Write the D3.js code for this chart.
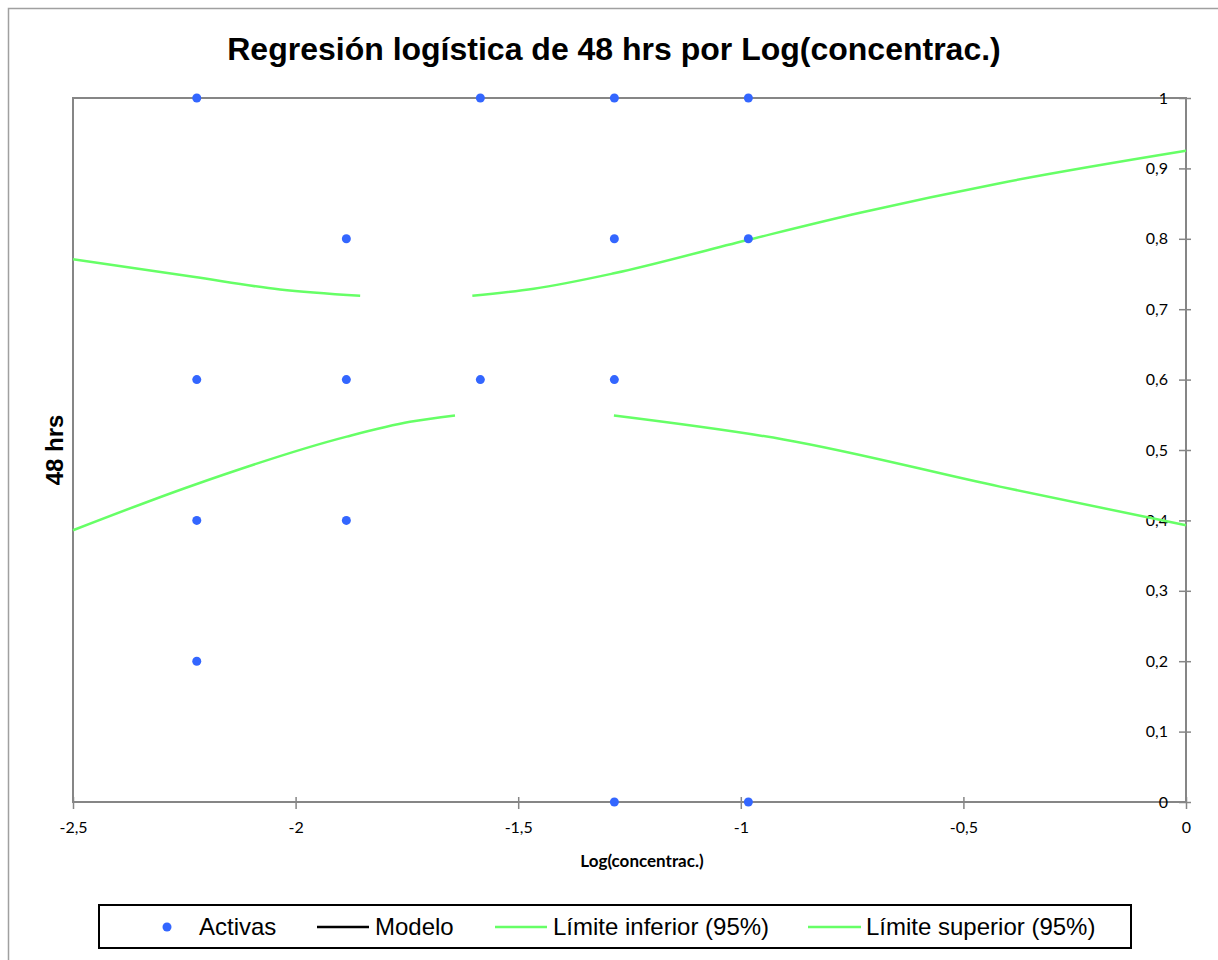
<!DOCTYPE html>
<html>
<head>
<meta charset="utf-8">
<script src="https://cdn.jsdelivr.net/npm/d3@7"></script>
<style>
    body { margin: 0; background: #fff; }
    .tick text { font-family: Lato, "Open Sans", sans-serif; font-size: 16px; fill: #000; }
    .tick line { stroke: #868686; stroke-width: 1.5; }
</style>
</head>
<body>
<div id="chart"></div>
<script>
// Observed points (Activas)
const activasX = [-2.222, -2.222, -2.222, -2.222, -1.886, -1.886, -1.886, -1.585, -1.585,
                  -1.284, -1.284, -1.284, -1.284, -0.983, -0.983, -0.983];
const activasY = [1, 0.6, 0.4, 0.2, 0.8, 0.6, 0.4, 1, 0.6, 1, 0.8, 0.6, 0, 1, 0.8, 0];

// Confidence limits (null = gap in the curve)
const infX = [-2.5, -2.23, -1.885, -1.743, -1.642, -1.45, -1.285, -0.904, -0.418, 0];
const infY = [0.386, 0.450, 0.519, 0.540, 0.549, null, 0.549, 0.515, 0.448, 0.393];
const supX = [-2.5, -2.23, -2.035, -1.855, -1.73, -1.603, -1.465, -1.285, -0.987, -0.732, -0.418, 0];
const supY = [0.771, 0.746, 0.728, 0.719, null, 0.719, 0.729, 0.751, 0.798, 0.837, 0.879, 0.925];

const xTicks = [-2.5, -2, -1.5, -1, -0.5, 0];
const yTicks = [0, 0.1, 0.2, 0.3, 0.4, 0.5, 0.6, 0.7, 0.8, 0.9, 1];

const legendLabels = ["Activas", "Modelo", "Límite inferior (95%)", "Límite superior (95%)"];

const width = 1218;
const height = 960;
const plot = {left: 73, right: 1186, top: 98, bottom: 802};
const green = "#66ff66";
const blue = "#3366ff";

const locale = d3.formatLocale({decimal: ",", thousands: ".", grouping: [3], currency: ["", "€"], minus: "-"});
const fmt = locale.format("~g");

const svg = d3.select("#chart")
    .append("svg")
    .attr("width", width)
    .attr("height", height);

// chart border
svg.append("rect")
    .attr("x", 8.5).attr("y", 8.5)
    .attr("width", width + 20).attr("height", height + 20)
    .attr("fill", "none")
    .attr("stroke", "#a0a0a0")
    .attr("stroke-width", 1.5);

const xScale = d3.scaleLinear().domain([-2.5, 0]).range([plot.left, plot.right]);
const yScale = d3.scaleLinear().domain([0, 1]).range([plot.bottom, plot.top]);

// plot area border
svg.append("rect")
    .attr("x", plot.left).attr("y", plot.top)
    .attr("width", plot.right - plot.left)
    .attr("height", plot.bottom - plot.top)
    .attr("fill", "none")
    .attr("stroke", "#868686")
    .attr("stroke-width", 2);

// x axis
const xAxis = svg.append("g")
    .attr("transform", `translate(0, ${plot.bottom})`)
    .call(d3.axisBottom(xScale).tickValues(xTicks).tickFormat(fmt));
xAxis.select(".domain").remove();
xAxis.selectAll(".tick line").attr("y1", -5).attr("y2", 7);
xAxis.selectAll(".tick text").attr("y", 20);

// y axis (right side, labels on the inside)
const yAxis = svg.append("g")
    .attr("transform", `translate(${plot.right}, 0)`)
    .call(d3.axisLeft(yScale).tickValues(yTicks).tickFormat(fmt));
yAxis.select(".domain").remove();
yAxis.selectAll(".tick line").attr("x1", 5).attr("x2", -7);
yAxis.selectAll(".tick text").attr("x", -18);

// limit curves
const lineGen = d3.line()
    .defined(d => d[1] !== null)
    .x(d => xScale(d[0]))
    .y(d => yScale(d[1]))
    .curve(d3.curveMonotoneX);

[[infX, infY], [supX, supY]].forEach(([xs, ys]) => {
    svg.append("path")
        .datum(xs.map((x, i) => [x, ys[i]]))
        .attr("fill", "none")
        .attr("stroke", green)
        .attr("stroke-width", 2.5)
        .attr("d", lineGen);
});

// points
svg.append("g")
    .selectAll("circle")
    .data(activasX.map((x, i) => [x, activasY[i]]))
    .join("circle")
    .attr("cx", d => xScale(d[0]))
    .attr("cy", d => yScale(d[1]))
    .attr("r", 4.5)
    .attr("fill", blue);

// titles
svg.append("text")
    .attr("x", 614).attr("y", 60)
    .attr("text-anchor", "middle")
    .style("font-family", "Arial, 'Liberation Sans', sans-serif")
    .style("font-size", "32px")
    .style("font-weight", "bold")
    .text("Regresión logística de 48 hrs por Log(concentrac.)");

svg.append("text")
    .attr("transform", "translate(63, 450) rotate(-90)")
    .attr("text-anchor", "middle")
    .style("font-family", "Arial, 'Liberation Sans', sans-serif")
    .style("font-size", "24px")
    .style("font-weight", "bold")
    .text("48 hrs");

svg.append("text")
    .attr("x", 642).attr("y", 867)
    .attr("text-anchor", "middle")
    .style("font-family", "Lato, 'Open Sans', sans-serif")
    .style("font-size", "17px")
    .style("font-weight", "bold")
    .text("Log(concentrac.)");

// legend
const legend = svg.append("g");
legend.append("rect")
    .attr("x", 99).attr("y", 905)
    .attr("width", 1032).attr("height", 43)
    .attr("fill", "#fff")
    .attr("stroke", "#000")
    .attr("stroke-width", 2);

const legendItems = [
    {type: "dot", color: blue, x1: 167, tx: 199},
    {type: "line", color: "#000", x1: 317, x2: 369, tx: 375},
    {type: "line", color: green, x1: 495, x2: 547, tx: 553},
    {type: "line", color: green, x1: 808, x2: 861, tx: 866}
];
legendItems.forEach((it, i) => {
    if (it.type === "dot") {
        legend.append("circle")
            .attr("cx", it.x1).attr("cy", 927).attr("r", 4.5)
            .attr("fill", it.color);
    } else {
        legend.append("line")
            .attr("x1", it.x1).attr("x2", it.x2)
            .attr("y1", 927).attr("y2", 927)
            .attr("stroke", it.color)
            .attr("stroke-width", 2.5);
    }
    legend.append("text")
        .attr("x", it.tx).attr("y", 935)
        .style("font-family", "Arial, 'Liberation Sans', sans-serif")
        .style("font-size", "24px")
        .text(legendLabels[i]);
});
</script>
</body>
</html>
